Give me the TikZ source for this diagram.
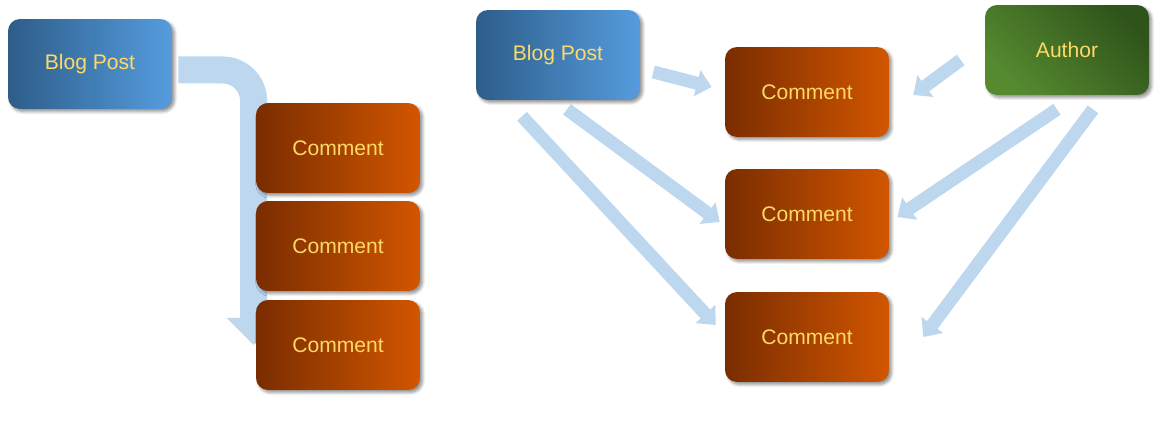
\documentclass[tikz,border=0pt]{standalone}
\usepackage{fontspec}
\setmainfont{Liberation Sans}
\usetikzlibrary{arrows.meta,shadows.blur,backgrounds}

\tikzset{
  box/.style={rounded corners=0.24cm, minimum width=3.28cm, minimum height=1.8cm,
    inner sep=0pt, text=postyellow, font=\fontsize{12}{14}\selectfont,
    blur shadow={shadow xshift=0.05cm, shadow yshift=-0.05cm, shadow blur radius=0.06cm,
      shadow blur steps=6, shadow opacity=45}},
  postbox/.style={box, left color=postdark, right color=postlight},
  commentbox/.style={box, left color=comdark, right color=comlight},
  authorbox/.style={box, top color=audark, bottom color=aulight, shading angle=-45},
  conn/.style={draw=connblue, line width=0.26cm, -{Triangle[width=0.52cm,length=0.3cm]}},
  bigconn/.style={draw=connblue, line width=0.54cm, -{Triangle[width=1.05cm,length=0.54cm]}}
}

\begin{document}
\begin{tikzpicture}[x=0.02cm, y=-0.02cm]
\definecolor{postdark}{HTML}{2D5D89}
\definecolor{postlight}{HTML}{559CDE}
\definecolor{comdark}{HTML}{7A2D00}
\definecolor{comlight}{HTML}{D25600}
\definecolor{aulight}{HTML}{558A2F}
\definecolor{audark}{HTML}{2F541B}
\definecolor{postyellow}{HTML}{FFD966}
\definecolor{connblue}{HTML}{BDD7EE}

\useasboundingbox (0,0) rectangle (1171,431);

% one post, comments in a list
\node[postbox] (bp1) at (90,64) {Blog Post};
\node[commentbox] (c1l) at (338,148) {Comment};
\node[commentbox] (c2l) at (338,246) {Comment};
\node[commentbox] (c3l) at (338,345) {Comment};

% post and author both link to each comment
\node[postbox] (bp2) at (558,55) {Blog Post};
\node[commentbox] (c1r) at (807,92) {Comment};
\node[commentbox] (c2r) at (807,214) {Comment};
\node[commentbox] (c3r) at (807,337) {Comment};
\node[authorbox] (au) at (1067,50) {Author};

\begin{scope}[on background layer]
\draw[bigconn, rounded corners=0.62cm] ([shift={(6,6)}]bp1.east) -| ([shift={(-2,0)}]c3l.west);
\end{scope}

\draw[conn] ([shift={(13,17)}]bp2.east) -- ([shift={(-13,-5)}]c1r.west);
\draw[conn] ([shift={(9,9)}]bp2.south) -- ([shift={(-5,8)}]c2r.west);
\draw[conn] ([shift={(-36,16)}]bp2.south) -- ([shift={(-9,-12)}]c3r.west);
\draw[conn] ([shift={(-24,10)}]au.west) -- ([shift={(24,3)}]c1r.east);
\draw[conn] ([shift={(-10,14)}]au.south) -- ([shift={(8,3)}]c2r.east);
\draw[conn] ([shift={(26,14)}]au.south) -- ([shift={(34,0)}]c3r.east);
\end{tikzpicture}
\end{document}
